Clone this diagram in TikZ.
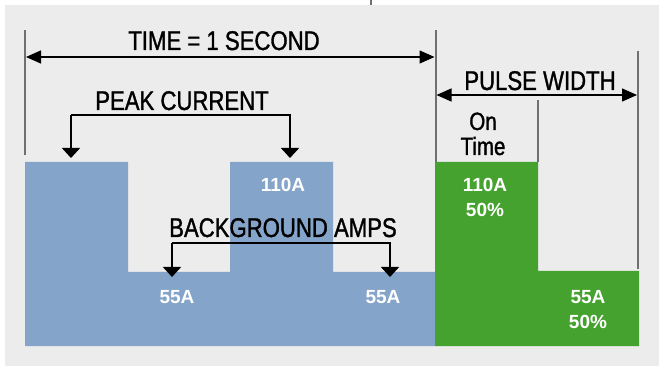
\documentclass[tikz,border=0pt]{standalone}
\usepackage{fontspec}
\setmainfont{Liberation Sans}
\newfontfamily\cnd[FakeStretch=0.82,FakeBold=1.2]{Liberation Sans}
\usetikzlibrary{arrows.meta}
\definecolor{panel}{HTML}{EBECEB}
\definecolor{ampblue}{HTML}{84A4CA}
\definecolor{ampgreen}{HTML}{46A22F}
\definecolor{guide}{HTML}{707070}
\tikzset{
  lbl/.style={anchor=base, inner sep=0pt, font=\cnd\fontsize{27}{29}\selectfont},
  ontime/.style={anchor=base, inner sep=0pt, font=\cnd\fontsize{25}{27}\selectfont},
  amp/.style={anchor=base, inner sep=0pt, text=white, font=\bfseries\fontsize{19}{21}\selectfont},
  guideline/.style={guide, line width=2pt},
  dim/.style={line width=1.3pt, {Triangle[length=15pt,width=13pt]}-{Triangle[length=15pt,width=13pt]}},
  bracket/.style={line width=1.3pt, -{Triangle[length=10pt,width=18pt]}}
}
\begin{document}
\begin{tikzpicture}[x=1pt, y=-1pt]
    \useasboundingbox (0,0) rectangle (659,366);
    \fill[panel] (5,5) rectangle (659,366);
    \draw[guideline] (371,0) -- (371,5);
    \fill[ampblue] (25,162) -- (128,162) -- (128,272) -- (230,272) -- (230,162) -- (333,162)
        -- (333,272) -- (435,272) -- (435,346) -- (25,346) -- cycle;
    \fill[ampgreen] (435,162) -- (538,162) -- (538,271) -- (639,271) -- (639,346) -- (435,346) -- cycle;
    \coordinate (g1top) at (25,30);   \coordinate (g1bot) at (25,155);
    \coordinate (g2top) at (435.5,30); \coordinate (g2bot) at (435.5,162);
    \coordinate (g3top) at (538,100); \coordinate (g3bot) at (538,162);
    \coordinate (g4top) at (638,51);  \coordinate (g4bot) at (638,269);
    \foreach \g in {1,...,4}
        \draw[guideline] (g\g top) -- (g\g bot);
    \coordinate (timeL) at (26,57);  \coordinate (timeR) at (434.5,57);
    \coordinate (pwL) at (436.5,95); \coordinate (pwR) at (637,95);
    \draw[dim] (timeL) -- (timeR);
    \draw[dim] (pwL) -- (pwR);
    \node[lbl] (time) at (224,50) {TIME = 1 SECOND};
    \node[lbl] (pw) at (540,90) {PULSE WIDTH};
    \node[ontime] (on) at (483,130) {On};
    \node[ontime] (tm) at (483,155) {Time};
    \node[lbl] (peak) at (182,110) {PEAK CURRENT};
    \coordinate (peakA) at (71,158); \coordinate (peakB) at (290,158);
    \draw[bracket] (71,115) -- (peakA);
    \draw[bracket] (71,115) -- (290,115) -- (peakB);
    \node[lbl] (bg) at (283,237) {BACKGROUND AMPS};
    \coordinate (bgA) at (172,277); \coordinate (bgB) at (390,277);
    \draw[bracket] (172,243) -- (bgA);
    \draw[bracket] (172,243) -- (390,243) -- (bgB);
    \node[amp] (b110) at (283,192) {110A};
    \node[amp] (b55a) at (177,304) {55A};
    \node[amp] (b55b) at (383,304) {55A};
    \node[amp] (g110) at (485,192) {110A};
    \node[amp] (g110p) at (485,217) {50\%};
    \node[amp] (g55) at (588,304) {55A};
    \node[amp] (g55p) at (588,328) {50\%};
\end{tikzpicture}
\end{document}
